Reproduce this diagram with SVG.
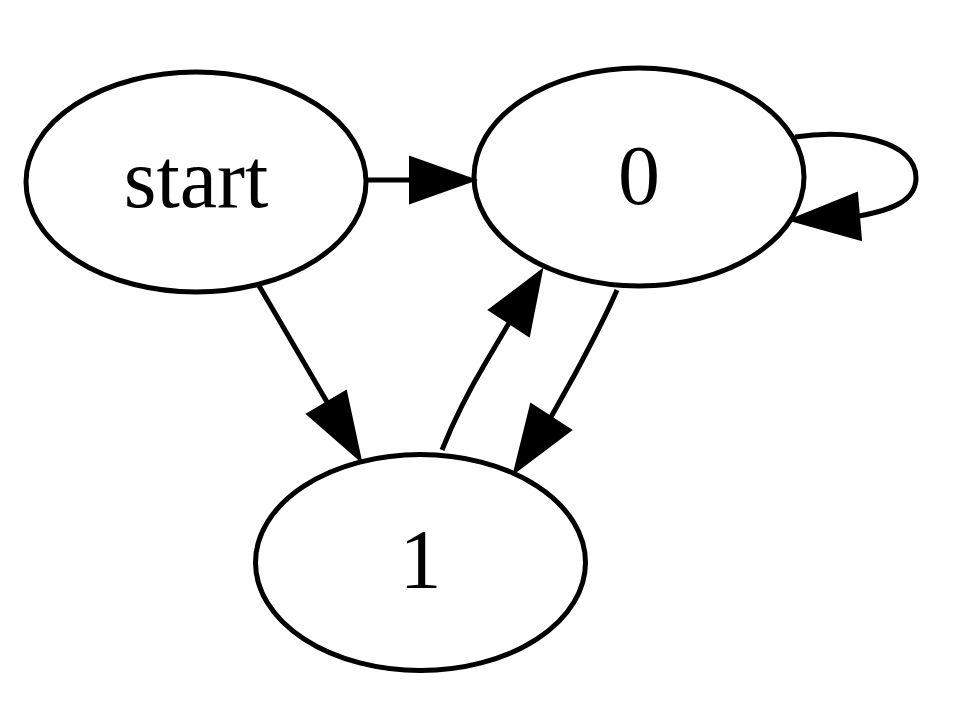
<svg xmlns="http://www.w3.org/2000/svg" width="963" height="703" viewBox="0 0 963 703">
  <style>
    .node ellipse { fill: none; stroke: #000; stroke-width: 5; }
    .node text { font-family: "Liberation Serif", "Times New Roman", serif; font-size: 84px; fill: #000; text-anchor: middle; }
    .edge path { fill: none; stroke: #000; stroke-width: 5; }
    .edge polygon { fill: #000; stroke: #000; stroke-width: 2; stroke-linejoin: miter; }
  </style>
  <rect width="963" height="703" fill="#fff"/>

  <g id="edges">
    <!-- start -> 0 -->
    <g class="edge" id="start_to_0">
      <path d="M366,180 L412,180"/>
      <polygon points="410,157 475,180 410,203"/>
    </g>
    <!-- start -> 1 -->
    <g class="edge" id="start_to_1">
      <path d="M258,284 L327,402"/>
      <polygon points="307,414 346,391 361,461"/>
    </g>
    <!-- 1 -> 0 -->
    <g class="edge" id="1_to_0">
      <path d="M442,450 C452,425 468,392 486,362 L509,323"/>
      <polygon points="489,310 529,336 542,270"/>
    </g>
    <!-- 0 -> 1 -->
    <g class="edge" id="0_to_1">
      <path d="M617,290 C605,318 590,346 575,374 L551,417"/>
      <polygon points="531,404 571,430 514,473"/>
    </g>
    <!-- 0 -> 0 -->
    <g class="edge" id="0_to_0">
      <path d="M795,137 C850,129 916,140 916,178 C916,200 893,210 859,216"/>
      <polygon points="857,193 861,240 790,220"/>
    </g>
  </g>

  <g id="node_start" class="node">
    <ellipse cx="196" cy="182" rx="170" ry="110"/>
    <text x="196" y="207">start</text>
  </g>

  <g id="node_0" class="node">
    <ellipse cx="639" cy="177" rx="165" ry="109"/>
    <text x="639" y="204">0</text>
  </g>

  <g id="node_1" class="node">
    <ellipse cx="420.5" cy="562.5" rx="165" ry="108"/>
    <text x="420.5" y="588">1</text>
  </g>
</svg>
